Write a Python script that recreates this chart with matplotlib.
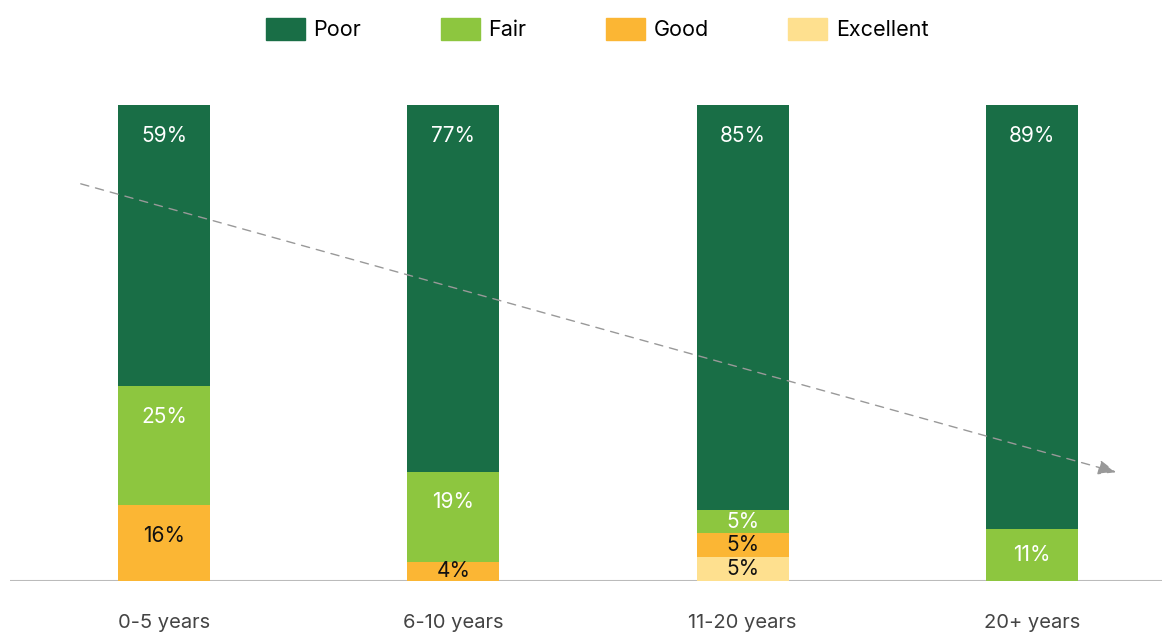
import numpy as np
import matplotlib.pyplot as plt
from matplotlib.patches import Patch

plt.rcParams['font.family'] = ['Inter', 'DejaVu Sans']

categories = ['0-5 years', '6-10 years', '11-20 years', '20+ years']
excellent = [0, 0, 5, 0]
good = [16, 4, 5, 0]
fair = [25, 19, 5, 11]
poor = [59, 77, 85, 89]

series = [('Excellent', excellent, '#fee08f', '#111111'),
          ('Good', good, '#fbb634', '#111111'),
          ('Fair', fair, '#8dc63f', 'white'),
          ('Poor', poor, '#196e46', 'white')]

fig = plt.figure(figsize=(11.62, 6.32), dpi=100)
ax = fig.add_axes([10 / 1162, 1 - 581 / 632, 1 - 10 / 1162, 476 / 632])

x = np.arange(len(categories))
bottom = np.zeros(len(categories))
for name, vals, color, tcolor in series:
    vals = np.array(vals, dtype=float)
    ax.bar(x, vals, bottom=bottom, width=0.318, color=color, zorder=2)
    for xi, b, v in zip(x, bottom, vals):
        if v > 0:
            ty = b + v - min(v / 2, 6.5)
            ax.text(xi, ty, f'{int(v)}%', ha='center', va='center',
                    color=tcolor, fontsize=15, zorder=3)
    bottom += vals

ax.set_xlim(-154 / 289.33, 998 / 289.33)
ax.set_ylim(0, 100)
ax.axhline(0, color='#bbbbbb', lw=1.5, zorder=1)
for s in ax.spines.values():
    s.set_visible(False)
ax.set_yticks([])
ax.set_xticks(x)
ax.set_xticklabels(categories, fontsize=14.5, color='#444444')
ax.tick_params(axis='x', length=0, pad=23.5)

# trend arrow
ax.annotate('', xy=(3.30, 22.7), xytext=(-0.297, 83.6),
            arrowprops=dict(arrowstyle='-|>,head_length=1.1,head_width=0.45',
                            color='#999999', lw=1, linestyle=(0, (6, 5))),
            zorder=4)

handles = [Patch(color=c, label=n) for n, _, c, _ in reversed(series)]
fig.legend(handles=handles, loc='upper center', bbox_to_anchor=(0.514, 1.002),
           ncol=4, frameon=False, fontsize=15.5, handlelength=1.8,
           handleheight=1.2, handletextpad=0.4, columnspacing=3.7)

fig.savefig('out.png', dpi=100)
